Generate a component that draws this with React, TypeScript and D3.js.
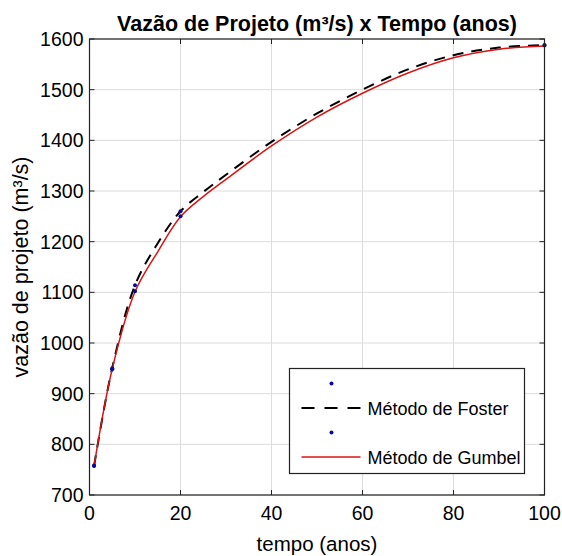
import React, { useEffect, useRef } from 'react';
import * as d3 from 'd3';

const tempo = [1, 5, 10, 15, 20, 25, 30, 40, 50, 60, 70, 80, 90, 100];
const foster = [757, 951, 1114, 1197, 1260, 1298, 1332, 1397, 1453, 1500, 1540, 1568, 1583, 1588];
const gumbel = [757, 949, 1101, 1180, 1249, 1289, 1323, 1389, 1446, 1493, 1533, 1563, 1580, 1586];

const pontosT = [1, 5, 10, 20, 100];
const pontosFoster = [758, 950, 1114, 1260, 1588];
const pontosGumbel = [757, 948, 1102, 1250, 1587];

const xTicks = [0, 20, 40, 60, 80, 100];
const yTicks = [700, 800, 900, 1000, 1100, 1200, 1300, 1400, 1500, 1600];

const W = 562;
const H = 556;
const margin = { top: 39, right: 17.5, bottom: 61, left: 89.5 };

const App = () => {
    const svgRef = useRef<SVGSVGElement>(null);

    useEffect(() => {
        const svg = d3.select(svgRef.current);
        svg.selectAll('*').remove();

        const w = W - margin.left - margin.right;
        const h = H - margin.top - margin.bottom;
        const font = 'Liberation Sans, Arial, sans-serif';

        const x = d3.scaleLinear().domain([0, 100]).range([0, w]);
        const y = d3.scaleLinear().domain([700, 1600]).range([h, 0]);

        svg.append('rect').attr('width', W).attr('height', H).attr('fill', '#fff');

        const g = svg.append('g').attr('transform', `translate(${margin.left},${margin.top})`);

        // grid
        g.selectAll('.gx').data(xTicks).enter().append('line')
            .attr('x1', d => x(d)).attr('x2', d => x(d))
            .attr('y1', 0).attr('y2', h)
            .attr('stroke', '#dcdcdc').attr('stroke-width', 1);
        g.selectAll('.gy').data(yTicks).enter().append('line')
            .attr('x1', 0).attr('x2', w)
            .attr('y1', d => y(d)).attr('y2', d => y(d))
            .attr('stroke', '#dcdcdc').attr('stroke-width', 1);

        // tick marks inward, all four sides
        const tl = 5;
        xTicks.forEach(t => {
            g.append('line').attr('x1', x(t)).attr('x2', x(t)).attr('y1', h).attr('y2', h - tl).attr('stroke', '#222');
            g.append('line').attr('x1', x(t)).attr('x2', x(t)).attr('y1', 0).attr('y2', tl).attr('stroke', '#222');
        });
        yTicks.forEach(t => {
            g.append('line').attr('x1', 0).attr('x2', tl).attr('y1', y(t)).attr('y2', y(t)).attr('stroke', '#222');
            g.append('line').attr('x1', w).attr('x2', w - tl).attr('y1', y(t)).attr('y2', y(t)).attr('stroke', '#222');
        });

        // tick labels
        g.selectAll('.xl').data(xTicks).enter().append('text')
            .attr('x', d => x(d)).attr('y', h + 25)
            .attr('text-anchor', 'middle')
            .attr('font-family', font).attr('font-size', 19.5)
            .text(d => d);
        g.selectAll('.yl').data(yTicks).enter().append('text')
            .attr('x', -6).attr('y', d => y(d) + 7)
            .attr('text-anchor', 'end')
            .attr('font-family', font).attr('font-size', 19.5)
            .text(d => d);

        // curves
        const line = d3.line<number>()
            .x((d, i) => x(tempo[i]))
            .y(d => y(d))
            .curve(d3.curveCatmullRom);

        g.append('path').datum(foster)
            .attr('d', line)
            .attr('fill', 'none').attr('stroke', '#000')
            .attr('stroke-width', 2).attr('stroke-dasharray', '11,8');

        g.append('path').datum(gumbel)
            .attr('d', line)
            .attr('fill', 'none').attr('stroke', '#d81414')
            .attr('stroke-width', 1.5);

        // points
        [pontosFoster, pontosGumbel].forEach(serie => {
            g.selectAll(null).data(serie).enter().append('circle')
                .attr('cx', (d, i) => x(pontosT[i]))
                .attr('cy', d => y(d))
                .attr('r', 2)
                .attr('fill', '#0a0a9a');
        });

        // box
        g.append('rect').attr('width', w).attr('height', h)
            .attr('fill', 'none').attr('stroke', '#222').attr('stroke-width', 1.2);

        // legend
        const lg = svg.append('g').attr('transform', 'translate(289.5,368.5)');
        lg.append('rect').attr('width', 235).attr('height', 105)
            .attr('fill', '#fff').attr('stroke', '#222').attr('stroke-width', 1.2);
        const rows = [
            { type: 'dot', label: '' },
            { type: 'dash', label: 'Método de Foster' },
            { type: 'dot', label: '' },
            { type: 'red', label: 'Método de Gumbel' },
        ];
        rows.forEach((r, i) => {
            const ry = 15 + i * 24.5;
            if (r.type === 'dot') {
                lg.append('circle').attr('cx', 42).attr('cy', ry).attr('r', 2).attr('fill', '#0a0a9a');
            } else {
                lg.append('line').attr('x1', 12).attr('x2', 71).attr('y1', ry).attr('y2', ry)
                    .attr('stroke', r.type === 'dash' ? '#000' : '#d81414')
                    .attr('stroke-width', r.type === 'dash' ? 2 : 1.5)
                    .attr('stroke-dasharray', r.type === 'dash' ? '13,10' : null);
                lg.append('text').attr('x', 78).attr('y', ry + 6.5)
                    .attr('font-family', font).attr('font-size', 18)
                    .text(r.label);
            }
        });

        // titles
        svg.append('text')
            .attr('x', margin.left + w / 2).attr('y', 31)
            .attr('text-anchor', 'middle')
            .attr('font-family', font).attr('font-size', 21.5).attr('font-weight', 'bold')
            .text('Vazão de Projeto (m³/s) x Tempo (anos)');
        svg.append('text')
            .attr('x', margin.left + w / 2).attr('y', 551)
            .attr('text-anchor', 'middle')
            .attr('font-family', font).attr('font-size', 20.5)
            .text('tempo (anos)');
        svg.append('text')
            .attr('transform', `translate(28,${margin.top + h / 2}) rotate(-90)`)
            .attr('text-anchor', 'middle')
            .attr('font-family', font).attr('font-size', 21.5)
            .text('vazão de projeto (m³/s)');
    }, []);

    return (
        <svg ref={svgRef} width={W} height={H} style={{ position: 'absolute', left: 0, top: 0 }} />
    );
};

export default App;
